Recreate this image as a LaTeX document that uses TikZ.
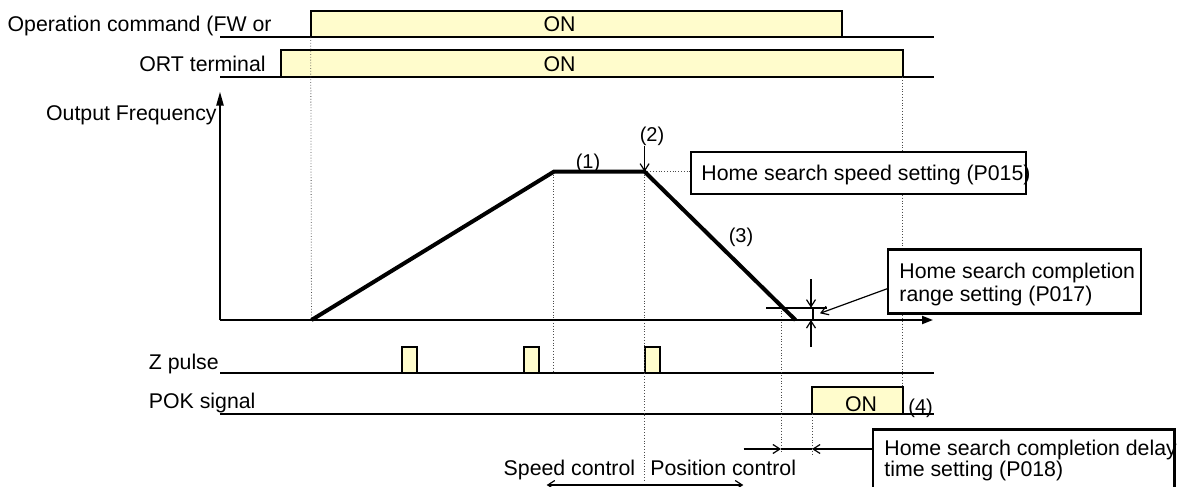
\documentclass[tikz,border=0pt]{standalone}
\usepackage{fontspec}
\setmainfont{Liberation Sans}
\usetikzlibrary{arrows.meta}

\tikzset{
  lbl/.style={inner sep=0pt, font=\fontsize{10.65}{12}\selectfont},
  stage/.style={inner sep=0pt, font=\fontsize{10}{12}\selectfont},
  sigline/.style={line width=1pt},
  onbox/.style={fill=yellow!20, draw=black, line width=1pt},
  guide/.style={densely dotted, line width=0.4pt, black!70},
  ramp/.style={line width=2pt, line join=miter},
  setbox/.style={draw=black, fill=white, line width=1.1pt, inner sep=0pt},
  barb/.style={line width=0.6pt, -{Straight Barb[length=3.5pt,width=4.5pt]}},
}

\begin{document}
\begin{tikzpicture}[x=0.5pt, y=-0.5pt]
\useasboundingbox (0,0) rectangle (1183,487);

\draw[onbox] (310.7,10.7) rectangle (842,37.3);
\draw[sigline] (220,37.3) -- (934,37.3);
\draw[onbox] (281.3,50) rectangle (903,77.3);
\draw[sigline] (220,77.3) -- (934,77.3);

\draw[onbox] (401.8,347.3) rectangle (417,373.3);
\draw[onbox] (523.5,347.3) rectangle (538.8,373.3);
\draw[onbox] (644.6,347.3) rectangle (660,373.3);
\draw[sigline] (220,373.3) -- (934,373.3);
\draw[onbox] (812,387.3) rectangle (903,414.3);
\draw[sigline] (220,414.3) -- (934,414.3);

\coordinate (origin) at (220,320);
\coordinate (fstart) at (311.5,320);
\coordinate (facc) at (553.8,171.7);
\coordinate (fdec) at (644.6,171.7);
\coordinate (fend) at (795.5,320);

\draw[guide] (310.7,37.3) -- (fstart);
\draw[guide] (facc) -- (553.8,373.3);
\draw[guide] (fdec) -- (644.6,481);
\draw[guide] (fdec) -- (689.6,171.7);
\draw[guide] (902.5,77.3) -- (902.5,387.3);
\draw[guide] (781,307.7) -- (781,453);
\draw[guide] (812,414.3) -- (812,455);

\draw[sigline, -{Triangle[length=7pt,width=3.6pt]}] (origin) -- (220,91.7);
\draw[sigline, -{Triangle[length=5.5pt,width=4pt]}] (origin) -- (933,320);
\draw[ramp] (fstart) -- (facc) -- (fdec) -- (fend);

\node[setbox, anchor=north west, minimum width=167.7pt, minimum height=20.85pt] (speedbox) at (689.6,151) {};
\node[setbox, anchor=north west, minimum width=126.3pt, minimum height=32pt] (rangebox) at (887,248.3) {};
\node[setbox, anchor=north west, minimum width=150.65pt, minimum height=31pt] (delaybox) at (872,428.3) {};

\node[lbl, anchor=base east] (opcmd) at (272,31.7) {Operation command (FW or};
\node[lbl, anchor=base east] (ortlbl) at (266,71.7) {ORT terminal};
\node[lbl, anchor=base] (opon) at (559.5,31.7) {ON};
\node[lbl, anchor=base] (orton) at (559.5,71.7) {ON};
\node[lbl, anchor=base east] (freqlbl) at (217,120) {Output Frequency};
\node[lbl, anchor=base west] (zlbl) at (148.5,369.3) {Z pulse};
\node[lbl, anchor=base west] (poklbl) at (148.5,408.3) {POK signal};
\node[lbl, anchor=base] (pokon) at (861,411.7) {ON};

\node[stage, anchor=base] (st1) at (588,168.3) {(1)};
\node[stage, anchor=base] (st2) at (652,141.7) {(2)};
\node[stage, anchor=base] (st3) at (741,242.7) {(3)};
\node[stage, anchor=base west] (st4) at (908,413) {(4)};

\node[lbl, anchor=base west] (spdtxt) at (701,180) {Home search speed setting (P015)};
\node[lbl, anchor=base west] (rng1) at (899,278.3) {Home search completion};
\node[lbl, anchor=base west] (rng2) at (899,301.7) {range setting (P017)};
\node[lbl, anchor=base west] (dly1) at (884,455) {Home search completion delay};
\node[lbl, anchor=base west] (dly2) at (884,476.7) {time setting (P018)};
\node[lbl, anchor=base west] (spdctl) at (503.3,475) {Speed control};
\node[lbl, anchor=base west] (posctl) at (650,475) {Position control};

\draw[barb] (st2.south -| fdec) -- (fdec);

\coordinate (rngtop) at (811,307.7);
\coordinate (rngbot) at (811,320);
\draw[line width=0.8pt] (766,307.7) -- (826.7,307.7);
\draw[sigline] (812.5,307.7) -- (812.5,320);
\draw[barb] (811,279) -- (rngtop);
\draw[barb] (811,347) -- (rngbot);
\coordinate (rngtip) at (820,313.3);
\draw[barb] ([yshift=-3.7pt]rangebox.west) -- (rngtip);

\coordinate (dlyleft) at (781,449);
\coordinate (dlyright) at (812,449);
\draw[barb] (743.5,449) -- (dlyleft);
\draw[line width=0.6pt] (dlyleft) -- (dlyright);
\draw[barb] (delaybox.west |- dlyright) -- (dlyright);

\draw[line width=0.6pt, {Straight Barb[length=3.5pt,width=4.5pt]}-{Straight Barb[length=3.5pt,width=4.5pt]}] (546.7,485) -- (743.3,485);
\end{tikzpicture}
\end{document}
